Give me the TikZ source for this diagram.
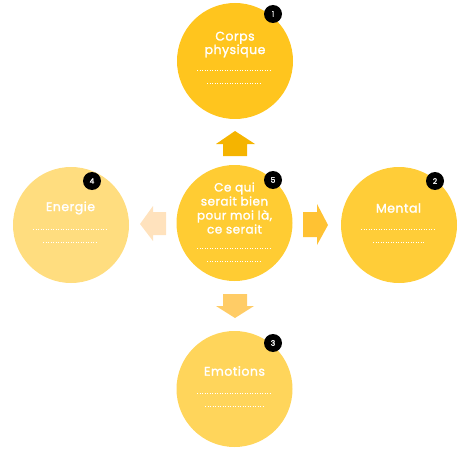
\documentclass[tikz,border=0pt]{standalone}
\usepackage{fontspec}
\setmainfont{Poppins}
\newfontfamily\tfont{Poppins}[FakeBold=1.6,LetterSpace=4]
\newfontfamily\bfont{Poppins}[FakeBold=1.5]
\definecolor{cTop}{HTML}{FFC51E}
\definecolor{cMid}{HTML}{FFCC33}
\definecolor{cLeft}{HTML}{FFDD7F}
\definecolor{cRight}{HTML}{FFCD38}
\definecolor{cBot}{HTML}{FFD55B}
\definecolor{aUp}{HTML}{F5B400}
\definecolor{aRight}{HTML}{FFC233}
\definecolor{aLeft}{HTML}{FFE2BD}
\definecolor{aDown}{HTML}{FFCC66}
\tikzset{
  bubble/.style={circle, minimum size=116pt, inner sep=0pt},
  badge/.style={circle, fill=black, minimum size=18pt, inner sep=0pt, text=white, font=\bfont\fontsize{7.5}{8}\selectfont},
  title/.style={text=white, align=center, font=\tfont\fontsize{12.5}{13.5}\selectfont},
  dotline/.style={white, line width=1pt, dash pattern=on 1pt off 1.5pt},
}
\begin{document}
\begin{tikzpicture}[x=1pt,y=-1pt]
\useasboundingbox (0,0) rectangle (469,452);
% circles
\node[bubble, fill=cTop] (top) at (235,61) {};
\node[bubble, fill=cMid] (mid) at (234.5,223) {};
\node[bubble, fill=cLeft] (left) at (71,225) {};
\node[bubble, fill=cRight] (right) at (399,225) {};
\node[bubble, fill=cBot] (bot) at (234.5,389) {};
% arrows
\fill[aUp] (223,156) -- (223,144) -- (216,144) -- (235,131) -- (255,144) -- (247,144) -- (247,156) -- cycle;
\fill[aRight] (303,212) -- (317,212) -- (317,204) -- (328,225) -- (317,245) -- (317,237) -- (303,237) -- cycle;
\fill[aLeft] (166,212) -- (153,212) -- (153,206) -- (140,224) -- (153,241) -- (153,235) -- (166,235) -- cycle;
\fill[aDown] (223,294) -- (247,294) -- (247,306) -- (254,306) -- (235,318) -- (216,306) -- (223,306) -- cycle;
% titles
\node[title] (ttop) at (235,44.5) {Corps\\physique};
\node[title, font=\tfont\fontsize{12}{14}\selectfont] (tmid) at (234.5,208) {Ce qui\\serait bien\\pour moi là,\\ce serait};
\node[title] (tleft) at (70.5,208) {Energie};
\node[title] (tright) at (398.5,208) {Mental};
\node[title] (tbot) at (234.5,371) {Emotions};
% dotted lines
\draw[dotline] (197,71) -- (272,71);
\draw[dotline] (207,84) -- (262,84);
\draw[dotline] (197,248) -- (272,248);
\draw[dotline] (207,261) -- (262,261);
\draw[dotline] (33,229) -- (108,229);
\draw[dotline] (43,242) -- (98,242);
\draw[dotline] (361,229) -- (436,229);
\draw[dotline] (373,242) -- (424,242);
\draw[dotline] (197,393) -- (272,393);
\draw[dotline] (205,406) -- (265,406);
% badges
\node[badge] (b1) at (273,14) {1};
\node[badge] (b5) at (273,180) {5};
\node[badge] (b4) at (92,181) {4};
\node[badge] (b2) at (435,181) {2};
\node[badge] (b3) at (273,343) {3};
\end{tikzpicture}
\end{document}
